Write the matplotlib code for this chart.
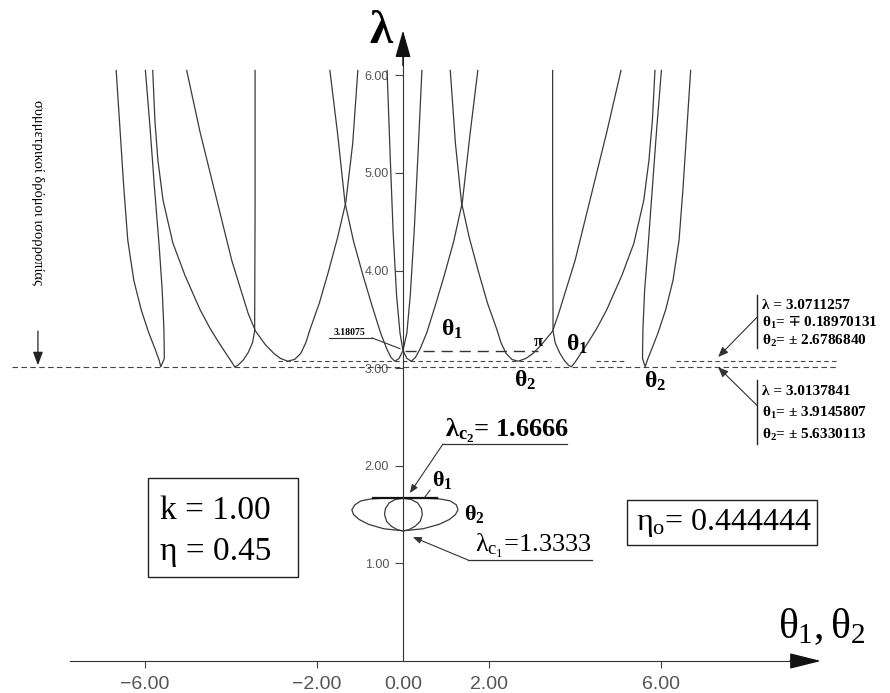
import matplotlib
matplotlib.use("Agg")
import matplotlib.pyplot as plt
from matplotlib.patches import Rectangle

plt.rcParams["font.family"] = ["Liberation Serif", "DejaVu Serif"]
plt.rcParams["mathtext.fontset"] = "custom"
plt.rcParams["mathtext.rm"] = "Liberation Serif"
plt.rcParams["mathtext.it"] = "Liberation Serif"
plt.rcParams["mathtext.bf"] = "Liberation Serif:bold"
plt.rcParams["mathtext.fallback"] = "stix"

# critical loads and equilibrium levels
lam_c1 = 1.3333
lam_c2 = 1.6666
lam_low = 3.0137841
lam_mid = 3.0711257
lam_cross = 3.18075

x_ticks = [-6, -2, 0, 2, 6]
x_tick_labels = ["\u22126.00", "\u22122.00", "0.00", "2.00", "6.00"]
y_ticks = [1, 2, 3, 4, 5, 6]
y_tick_labels = ["1.00", "2.00", "3.00", "4.00", "5.00", "6.00"]

# outer theta2 branch (narrow U, minimum at +-5.633)
lam_a = [6.05, 5.44, 4.83, 4.31, 3.90, 3.60, 3.36, 3.19, 3.08, lam_low,
         3.10, 3.40, 3.80, 4.25, 4.85, 5.45, 6.05]
theta_a_left = [-6.67, -6.58, -6.49, -6.40, -6.26, -6.09, -5.91, -5.76, -5.67, -5.633,
                -5.55, -5.56, -5.60, -5.67, -5.78, -5.88, -5.99]
theta_a_right = [6.69, 6.60, 6.51, 6.42, 6.28, 6.11, 5.93, 5.78, 5.68, 5.633,
                 5.57, 5.58, 5.62, 5.70, 5.80, 5.90, 6.01]

# theta1 branch with minimum at +-3.915 and a vertical arm
lam_b = [6.05, 5.54, 5.13, 4.72, 4.28, 3.95, 3.60, 3.41, 3.26, 3.14, 3.06, lam_low,
         3.03, 3.08, 3.16, 3.26, 3.38, 4.60, 6.05]
theta_b_left = [-5.82, -5.77, -5.70, -5.58, -5.35, -5.07, -4.72, -4.49, -4.28, -4.10, -3.98, -3.915,
                -3.84, -3.72, -3.60, -3.50, -3.45, -3.44, -3.44]
theta_b_right = [5.86, 5.80, 5.72, 5.60, 5.37, 5.09, 4.74, 4.51, 4.30, 4.12, 4.00, 3.915,
                 3.85, 3.75, 3.64, 3.54, 3.49, 3.48, 3.48]

# theta2 branch with minimum at +-2.679
lam_c = [6.05, 5.42, 4.76, 4.10, 3.56, 3.38, 3.24, 3.15, 3.10, lam_mid,
         3.09, 3.15, 3.26, 3.40, 3.66, 3.98, 4.34, 4.70, 5.30, 6.05]
theta_c_left = [-5.03, -4.72, -4.35, -3.98, -3.60, -3.43, -3.20, -3.00, -2.85, -2.679,
                -2.52, -2.38, -2.26, -2.16, -1.95, -1.74, -1.52, -1.33, -1.17, -1.05]
theta_c_right = [5.07, 4.74, 4.37, 4.00, 3.62, 3.48, 3.22, 3.02, 2.86, 2.679,
                 2.53, 2.40, 2.28, 2.18, 1.97, 1.76, 1.54, 1.36, 1.22, 1.10]

# theta1 branches with minimum at -+0.190, crossing on the axis
lam_d = [6.05, 5.40, 4.70, 4.30, 3.95, 3.64, 3.36, 3.20, 3.11, lam_mid,
         3.10, lam_cross, 3.36, 3.75, 4.40, 5.20, 6.05]
theta_d_left = [-1.70, -1.52, -1.35, -1.15, -0.93, -0.72, -0.52, -0.38, -0.28, -0.190,
                -0.09, 0.0, 0.09, 0.17, 0.26, 0.35, 0.44]
theta_d_right = [1.74, 1.56, 1.38, 1.18, 0.96, 0.75, 0.55, 0.40, 0.29, 0.190,
                 0.09, 0.0, -0.07, -0.15, -0.23, -0.30, -0.37]

# closed loop between the two critical loads
theta_loop2 = [0.0, -0.45, -0.75, -0.98, -1.12, -1.19, -1.15, -1.02, -0.80, -0.45, 0.0,
               0.47, 0.84, 1.08, 1.22, 1.28, 1.24, 1.10, 0.86, 0.50, 0.0]
lam_loop2 = [lam_c2, 1.667, 1.66, 1.64, 1.60, 1.55, 1.50, 1.45, 1.40, 1.355, lam_c1,
             1.355, 1.40, 1.45, 1.50, 1.55, 1.60, 1.64, 1.66, 1.667, lam_c2]
theta_loop1 = [0.0, -0.18, -0.32, -0.41, -0.43, -0.38, -0.27, -0.13, 0.0,
               0.14, 0.28, 0.40, 0.45, 0.43, 0.34, 0.19, 0.0]
lam_loop1 = [lam_c2, 1.655, 1.62, 1.56, 1.50, 1.43, 1.38, 1.345, lam_c1,
             1.345, 1.38, 1.43, 1.50, 1.56, 1.62, 1.655, lam_c2]

fig = plt.figure(figsize=(8.9, 6.93), dpi=100)
ax = fig.add_axes([0, 0, 1, 1])
ax.set_xlim(-9.372, 11.326)
ax.set_ylim(-0.328, 6.772)

line_kw = dict(color="#3a3a3a", lw=0.9)
for th, lm in [(theta_a_left, lam_a), (theta_a_right, lam_a),
               (theta_b_left, lam_b), (theta_b_right, lam_b),
               (theta_c_left, lam_c), (theta_c_right, lam_c),
               (theta_d_left, lam_d), (theta_d_right, lam_d),
               (theta_loop2, lam_loop2), (theta_loop1, lam_loop1)]:
    ax.plot(th, lm, **line_kw)

ax.plot([-0.7, 0.8], [lam_c2, lam_c2], color="#111", lw=1.6)

# horizontal reference levels
ax.plot([-9.09, 10.12], [lam_low, lam_low], color="#444", lw=0.8,
        linestyle=(0, (5, 3)))
for x0, x1 in [(-2.9, 3.45), (4.5, 5.2), (6.35, 10.12)]:
    ax.plot([x0, x1], [lam_mid, lam_mid], color="#444", lw=0.8,
            linestyle=(0, (4, 3)))
ax.plot([0.05, 3.14], [lam_cross, lam_cross], color="#333", lw=1.0,
        linestyle=(0, (8, 5)))

# axes through the origin
for s in ["top", "right"]:
    ax.spines[s].set_visible(False)
ax.spines["left"].set_position(("data", 0))
ax.spines["bottom"].set_position(("data", 0))
ax.spines["left"].set_bounds(0, 6.3)
ax.spines["bottom"].set_bounds(-7.75, 9.2)
ax.spines["left"].set_color("#333")
ax.spines["bottom"].set_color("#333")

ax.set_xticks(x_ticks, x_tick_labels)
ax.set_yticks(y_ticks, y_tick_labels)
ax.tick_params(axis="x", direction="out", length=5, width=0.8, pad=6,
               labelsize=14, color="#444", labelcolor="#555")
ax.tick_params(axis="y", direction="out", length=6, width=0.8, pad=4,
               labelsize=9, color="#444", labelcolor="#555")
for lbl in ax.get_xticklabels() + ax.get_yticklabels():
    lbl.set_fontfamily("Liberation Sans")
ax.xaxis.get_major_ticks()[2].tick1line.set_visible(False)

ax.annotate("", xy=(9.72, 0), xytext=(9.0, 0),
            arrowprops=dict(arrowstyle="-|>,head_length=1.4,head_width=0.35",
                            color="#111", lw=1, mutation_scale=14,
                            shrinkA=0, shrinkB=0))
ax.annotate("", xy=(0, 6.46), xytext=(0, 6.1),
            arrowprops=dict(arrowstyle="-|>,head_length=1.4,head_width=0.4",
                            color="#111", lw=1, mutation_scale=12,
                            shrinkA=0, shrinkB=0))

ax.text(-0.51, 6.44, "\u03bb", fontsize=34, fontweight="bold",
        ha="center", va="center")
ax.text(9.74, 0.35, r"$\theta_1,\theta_2$", fontsize=30,
        ha="center", va="center")

# parameter boxes
ax.add_patch(Rectangle((-5.93, 0.861), 3.49, 1.014, fill=False,
                       lw=1.0, ec="#222"))
ax.text(-5.65, 1.455, "k = 1.00", fontsize=24, ha="left", va="baseline")
ax.text(-5.65, 1.035, "\u03b7 = 0.45", fontsize=24, ha="left", va="baseline")

ax.add_patch(Rectangle((5.21, 1.189), 4.42, 0.461, fill=False,
                       lw=1.0, ec="#222"))
ax.text(5.42, 1.342, r"$\eta_{\mathrm{o}}$= 0.444444", fontsize=23,
        ha="left", va="baseline")

# critical load labels
ax.text(0.98, 2.295, r"$\mathbf{\lambda_{c_2}}$= 1.6666", fontsize=19,
        fontweight="bold", ha="left", va="baseline")
ax.plot([0.93, 3.81], [2.223, 2.223], color="#333", lw=0.9)
ax.annotate("", xy=(0.16, 1.72), xytext=(0.93, 2.223),
            arrowprops=dict(arrowstyle="-|>,head_length=0.5,head_width=0.2",
                            color="#333", lw=0.8, mutation_scale=10,
                            shrinkA=0, shrinkB=0))
ax.text(1.67, 1.117, r"$\lambda_{c_1}$=1.3333", fontsize=19,
        ha="left", va="baseline")
ax.plot([1.51, 4.40], [1.035, 1.035], color="#333", lw=0.9)
ax.annotate("", xy=(0.23, 1.27), xytext=(1.51, 1.035),
            arrowprops=dict(arrowstyle="-|>,head_length=0.5,head_width=0.2",
                            color="#333", lw=0.8, mutation_scale=10,
                            shrinkA=0, shrinkB=0))

ax.text(0.91, 1.855, r"$\mathbf{\theta_1}$", fontsize=16, ha="center", va="center")
ax.plot([0.63, 0.51], [1.75, 1.68], color="#333", lw=0.8)
ax.text(1.65, 1.51, r"$\mathbf{\theta_2}$", fontsize=16, ha="center", va="center")

# branch labels
for tx, ty, s in [(1.14, 3.40, r"$\mathbf{\theta_1}$"),
                  (2.84, 2.88, r"$\mathbf{\theta_2}$"),
                  (4.05, 3.24, r"$\mathbf{\theta_1}$"),
                  (5.86, 2.87, r"$\mathbf{\theta_2}$")]:
    ax.text(tx, ty, s, fontsize=17, ha="center", va="center")
ax.text(3.14, 3.27, "\u03c0", fontsize=12, fontweight="bold",
        ha="center", va="center")

ax.text(-1.24, 3.37, "3.18075", fontsize=7, fontweight="bold",
        ha="center", va="center")
ax.plot([-1.72, -0.72], [3.31, 3.31], color="#333", lw=0.8)
ax.plot([-0.72, -0.07], [3.31, 3.20], color="#333", lw=0.8)

# value blocks on the right
th1 = r"$\mathbf{\theta_1}$"
th2 = r"$\mathbf{\theta_2}$"
block_kw = dict(fontsize=11, fontweight="bold", ha="left", va="baseline")
ax.plot([8.23, 8.23], [3.21, 3.75], color="#222", lw=1.0)
ax.text(8.35, 3.61, "\u03bb = 3.0711257", **block_kw)
ax.text(8.35, 3.425, th1 + r"= $\mathbf{\mp}$ 0.18970131", **block_kw)
ax.text(8.35, 3.24, th2 + "= \u00b1 2.6786840", **block_kw)
ax.annotate("", xy=(7.33, 3.115), xytext=(8.23, 3.52),
            arrowprops=dict(arrowstyle="-|>,head_length=0.6,head_width=0.25",
                            color="#333", lw=0.8, mutation_scale=10,
                            shrinkA=0, shrinkB=0))

ax.plot([8.23, 8.23], [2.22, 2.88], color="#222", lw=1.0)
ax.text(8.35, 2.73, "\u03bb = 3.0137841", **block_kw)
ax.text(8.35, 2.505, th1 + "= \u00b1 3.9145807", **block_kw)
ax.text(8.35, 2.28, th2 + "= \u00b1 5.6330113", **block_kw)
ax.annotate("", xy=(7.33, 3.01), xytext=(8.23, 2.62),
            arrowprops=dict(arrowstyle="-|>,head_length=0.6,head_width=0.25",
                            color="#333", lw=0.8, mutation_scale=10,
                            shrinkA=0, shrinkB=0))

# rotated note with arrow down to the lowest level
ax.text(-8.49, 4.80, "συμμετρικοί δρόμοι ισορροπίας", fontsize=10.5,
        rotation=-90, ha="center", va="center")
ax.annotate("", xy=(-8.49, 3.03), xytext=(-8.49, 3.38),
            arrowprops=dict(arrowstyle="-|>,head_length=0.8,head_width=0.3",
                            color="#222", lw=0.9, mutation_scale=10,
                            shrinkA=0, shrinkB=0))

fig.savefig("out.png", dpi=100)
